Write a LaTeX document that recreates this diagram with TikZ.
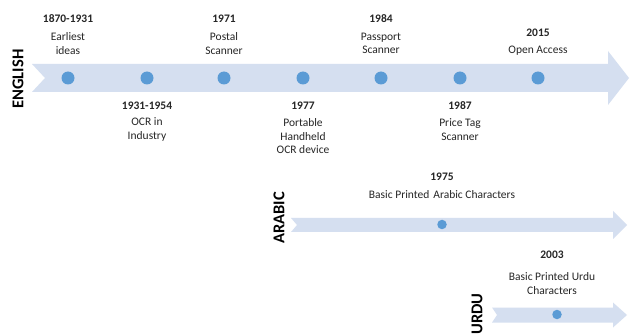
\documentclass[tikz,border=0pt]{standalone}
\usepackage{fontspec}
\setmainfont{Carlito}
\definecolor{arrowfill}{HTML}{D5DFF0}
\definecolor{dotfill}{HTML}{5B9BD5}
\definecolor{txt}{HTML}{262626}
\begin{document}
\begin{tikzpicture}[x=1pt,y=-1pt,
  band/.style={fill=arrowfill,draw=none},
  bigdot/.style={circle,fill=dotfill,draw=none,minimum size=13pt,inner sep=0pt},
  smalldot/.style={circle,fill=dotfill,draw=none,minimum size=9.5pt,inner sep=0pt},
  year/.style={font=\fontsize{11.5}{13.5}\selectfont\bfseries,text=txt,inner sep=0pt},
  desc/.style={font=\fontsize{11.5}{13.5}\selectfont,text=txt,inner sep=0pt,align=center},
  lang/.style={font=\fontsize{16.5}{18}\selectfont\bfseries,text=black,rotate=90,inner sep=0pt}]
\useasboundingbox (0,0) rectangle (630,334);
\fill[white] (0,0) rectangle (630,334);
% English band
\path[band] (32,64) -- (608,64) -- (608,51) -- (629,78) -- (608,105) -- (608,92) -- (32,92) -- (45,78) -- cycle;
% Arabic band
\path[band] (291,218) -- (613,218) -- (613,211) -- (627,225) -- (613,239) -- (613,232) -- (291,232) -- (297,225) -- cycle;
% Urdu band
\path[band] (492,307.5) -- (613,307.5) -- (613,302.5) -- (627,315) -- (613,327.5) -- (613,322.5) -- (492,322.5) -- (497,315) -- cycle;

\node[lang] (english) at (18,79) {ENGLISH};
\node[lang] (arabic) at (279,218) {ARABIC};
\node[lang] (urdu) at (477,314) {URDU};

\node[bigdot] (d1) at (68,78) {};
\node[bigdot] (d2) at (147,78) {};
\node[bigdot] (d3) at (224,78) {};
\node[bigdot] (d4) at (303,78) {};
\node[bigdot] (d5) at (381,78) {};
\node[bigdot] (d6) at (460,78) {};
\node[bigdot] (d7) at (538,78) {};
\node[smalldot] (a1) at (442,224.5) {};
\node[smalldot] (u1) at (557,314.5) {};

\node[year] (y1) at (68,19) {1870-1931};
\node[desc] (t1) at (68,43.5) {Earliest\\ideas};
\node[year] (y3) at (224,19) {1971};
\node[desc] (t3) at (224,43.5) {Postal\\Scanner};
\node[year] (y5) at (381,19) {1984};
\node[desc] (t5) at (381,43.5) {Passport\\Scanner};
\node[year] (y7) at (538,33) {2015};
\node[desc] (t7) at (538,50.5) {Open Access};

\node[year] (y2) at (147,106) {1931-1954};
\node[desc] (t2) at (147,129.5) {OCR in\\Industry};
\node[year] (y4) at (303,106) {1977};
\node[desc] (t4) at (303,136.5) {Portable\\Handheld\\OCR device};
\node[year] (y6) at (460,106) {1987};
\node[desc] (t6) at (460,129.5) {Price Tag\\Scanner};

\node[year] (ya) at (442,177) {1975};
\node[desc] (ta) at (442,195) {Basic Printed\hspace{4pt}Arabic Characters};
\node[year] (yu) at (552,255) {2003};
\node[desc] (tu) at (552,283.5) {Basic Printed Urdu\\Characters};
\end{tikzpicture}
\end{document}
